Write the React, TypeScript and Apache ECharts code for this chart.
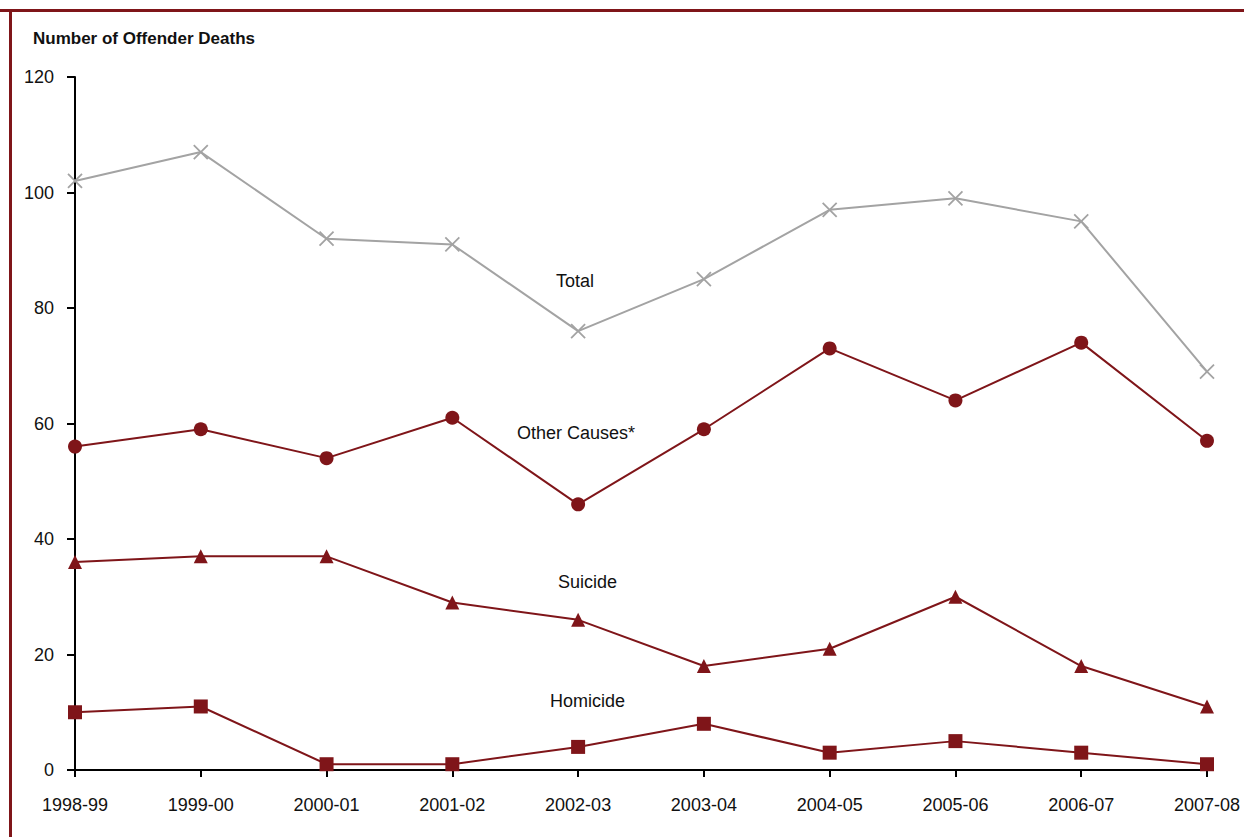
import React, { useEffect, useRef } from "react";
import * as echarts from "echarts";

const categories = ["1998-99", "1999-00", "2000-01", "2001-02", "2002-03", "2003-04", "2004-05", "2005-06", "2006-07", "2007-08"];
const totalValues = [102, 107, 92, 91, 76, 85, 97, 99, 95, 69];
const otherValues = [56, 59, 54, 61, 46, 59, 73, 64, 74, 57];
const suicideValues = [36, 37, 37, 29, 26, 18, 21, 30, 18, 11];
const homicideValues = [10, 11, 1, 1, 4, 8, 3, 5, 3, 1];
const seriesNames = ["Total", "Other Causes*", "Suicide", "Homicide"];
const yTicks = { min: 0, max: 120, interval: 20 };

const RED = "#7f1519";
const GRAY = "#a3a3a3";
const FONT = "'Liberation Sans Narrow', 'Arial Narrow', 'Liberation Sans', Arial, sans-serif";

export default function App() {
  const ref = useRef<HTMLDivElement>(null);
  useEffect(() => {
    if (!ref.current) return;
    const chart = echarts.init(ref.current, null, { renderer: "svg" });
    const labelStyle = { fill: "#111", font: `18px ${FONT}` };
    chart.setOption({
      animation: false,
      backgroundColor: "#fff",
      grid: { left: 75, right: 37, top: 77, bottom: 67, containLabel: false },
      xAxis: {
        type: "category",
        data: categories,
        boundaryGap: false,
        axisLine: { lineStyle: { color: "#000", width: 2 } },
        axisTick: { show: true, length: 7, alignWithLabel: true, lineStyle: { color: "#000", width: 2 } },
        axisLabel: { color: "#111", fontSize: 18, fontFamily: FONT, margin: 26 },
        splitLine: { show: false },
      },
      yAxis: {
        type: "value",
        min: yTicks.min,
        max: yTicks.max,
        interval: yTicks.interval,
        axisLine: { show: true, lineStyle: { color: "#000", width: 2 } },
        axisTick: { show: true, length: 8, lineStyle: { color: "#000", width: 2 } },
        axisLabel: { color: "#111", fontSize: 18, fontFamily: FONT, margin: 21 },
        splitLine: { show: false },
      },
      graphic: [
        { type: "line", shape: { x1: 0, y1: 10.5, x2: 1244, y2: 10.5 }, style: { stroke: RED, lineWidth: 3 } },
        { type: "line", shape: { x1: 10.5, y1: 9, x2: 10.5, y2: 837 }, style: { stroke: RED, lineWidth: 3 } },
        { type: "text", x: 33, y: 30, style: { text: "Number of Offender Deaths", fill: "#111", font: `bold 17px ${FONT}` } },
        { type: "text", x: 556, y: 272, style: { text: seriesNames[0], ...labelStyle } },
        { type: "text", x: 517, y: 424, style: { text: seriesNames[1], ...labelStyle } },
        { type: "text", x: 558, y: 573, style: { text: seriesNames[2], ...labelStyle } },
        { type: "text", x: 550, y: 692, style: { text: seriesNames[3], ...labelStyle } },
      ],
      series: [
        {
          name: seriesNames[0],
          type: "line",
          data: totalValues,
          symbol: "path://M0,0L10,10M10,0L0,10",
          symbolSize: 14,
          lineStyle: { color: GRAY, width: 2 },
          itemStyle: { color: "none", borderColor: GRAY, borderWidth: 1.8 },
        },
        {
          name: seriesNames[1],
          type: "line",
          data: otherValues,
          symbol: "circle",
          symbolSize: 14,
          lineStyle: { color: RED, width: 2 },
          itemStyle: { color: RED, borderWidth: 0 },
        },
        {
          name: seriesNames[2],
          type: "line",
          data: suicideValues,
          symbol: "triangle",
          symbolSize: 14,
          lineStyle: { color: RED, width: 2 },
          itemStyle: { color: RED, borderWidth: 0 },
        },
        {
          name: seriesNames[3],
          type: "line",
          data: homicideValues,
          symbol: "rect",
          symbolSize: 14,
          lineStyle: { color: RED, width: 2 },
          itemStyle: { color: RED, borderWidth: 0 },
        },
      ],
    });
    return () => chart.dispose();
  }, []);
  return <div ref={ref} style={{ width: 1244, height: 837, position: "absolute", left: 0, top: 0 }} />;
}
